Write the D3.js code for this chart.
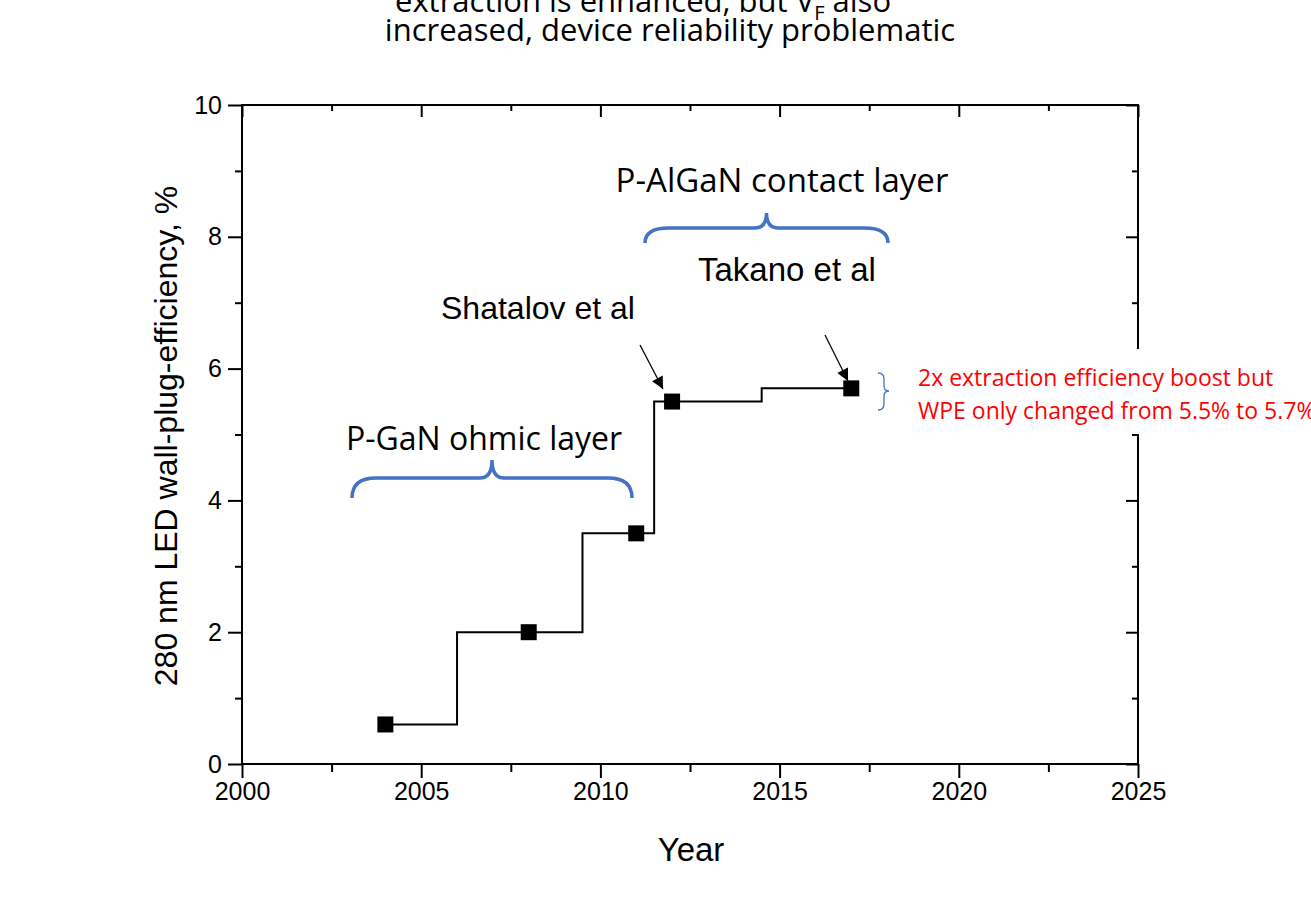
<!DOCTYPE html>
<html>
<head>
<meta charset="utf-8">
<script src="https://cdn.jsdelivr.net/npm/d3@7"></script>
<style>
  body { margin: 0; background: #fff; }
  svg { display: block; }
</style>
</head>
<body>
<svg id="chart"></svg>
<script>
const years = [2004, 2008, 2011, 2012, 2017];
const wpe = [0.6, 2.0, 3.5, 5.5, 5.7];
const xTicks = [2000, 2005, 2010, 2015, 2020, 2025];
const yTicks = [0, 2, 4, 6, 8, 10];

const W = 1311, H = 910;
const margin = { top: 105, right: 173, bottom: 146, left: 242 };
const width = W - margin.left - margin.right,
  height = H - margin.top - margin.bottom;

const svg = d3.select("#chart").attr("width", W).attr("height", H);
const g = svg.append("g")
  .attr("transform", "translate(" + margin.left + "," + margin.top + ")");

const x = d3.scaleLinear().domain([2000, 2025]).range([0, width]);
const y = d3.scaleLinear().domain([0, 10]).range([height, 0]);

const arial = "'Liberation Sans', Arial, sans-serif";
const calibri = "'Open Sans', 'Noto Sans', sans-serif";

// minor ticks
const xMinor = d3.range(2002.5, 2025, 5);
const yMinor = d3.range(1, 10, 2);

function styleAxis(sel) {
  sel.select(".domain").remove();
  sel.selectAll("line").attr("stroke", "#000").attr("stroke-width", 2);
  sel.selectAll("text").attr("font-family", arial).attr("font-size", 25).attr("fill", "#000");
}

// bottom
g.append("g").attr("transform", "translate(0," + height + ")")
  .call(d3.axisBottom(x).tickValues(xTicks).tickFormat(d3.format("d")).tickSize(14).tickPadding(4))
  .call(styleAxis);
g.append("g").attr("transform", "translate(0," + height + ")")
  .call(d3.axisBottom(x).tickValues(xMinor).tickFormat("").tickSize(8))
  .call(styleAxis);
// top (inward)
g.append("g")
  .call(d3.axisTop(x).tickValues(xTicks).tickFormat("").tickSize(-12))
  .call(styleAxis);
g.append("g")
  .call(d3.axisTop(x).tickValues(xMinor).tickFormat("").tickSize(-6))
  .call(styleAxis);
// left
g.append("g")
  .call(d3.axisLeft(y).tickValues(yTicks).tickSize(14).tickPadding(6))
  .call(styleAxis);
g.append("g")
  .call(d3.axisLeft(y).tickValues(yMinor).tickFormat("").tickSize(7))
  .call(styleAxis);
// right (inward)
g.append("g").attr("transform", "translate(" + width + ",0)")
  .call(d3.axisRight(y).tickValues(yTicks).tickFormat("").tickSize(-12))
  .call(styleAxis);
g.append("g").attr("transform", "translate(" + width + ",0)")
  .call(d3.axisRight(y).tickValues(yMinor).tickFormat("").tickSize(-6))
  .call(styleAxis);

// frame
g.append("rect").attr("width", width).attr("height", height)
  .attr("fill", "none").attr("stroke", "#000").attr("stroke-width", 2);

// step line
const data = years.map((d, i) => ({ year: d, v: wpe[i] }));
g.append("path").datum(data)
  .attr("fill", "none").attr("stroke", "#000").attr("stroke-width", 2)
  .attr("d", d3.line().x(d => x(d.year)).y(d => y(d.v)).curve(d3.curveStep));

g.selectAll(".pt").data(data).enter().append("rect")
  .attr("x", d => x(d.year) - 8).attr("y", d => y(d.v) - 8)
  .attr("width", 16).attr("height", 16).attr("fill", "#000");

// axis titles
svg.append("text").attr("x", 691).attr("y", 861).attr("text-anchor", "middle")
  .attr("font-family", arial).attr("font-size", 33).text("Year");
svg.append("text").attr("transform", "translate(177,436) rotate(-90)")
  .attr("text-anchor", "middle").attr("font-family", arial).attr("font-size", 32)
  .text("280 nm LED wall-plug-efficiency, %");

// title lines (top, clipped as in the slide)
const top1 = svg.append("text").attr("x", 643).attr("y", 12).attr("text-anchor", "middle")
  .attr("font-family", calibri).attr("font-size", 31);
top1.append("tspan").text("extraction is enhanced, but V");
top1.append("tspan").attr("font-size", 20).attr("dy", 8).text("F");
top1.append("tspan").attr("dy", -8).text(" also");
svg.append("text").attr("x", 670).attr("y", 41).attr("text-anchor", "middle")
  .attr("font-family", calibri).attr("font-size", 31)
  .text("increased, device reliability problematic");

// braces
function brace(x0, x1, yFlat, yEnd, yTip) {
  const xm = (x0 + x1) / 2, r = 12;
  return "M" + x0 + "," + yEnd +
    " Q" + x0 + "," + yFlat + " " + (x0 + r * 2) + "," + yFlat +
    " L" + (xm - r) + "," + yFlat +
    " Q" + xm + "," + yFlat + " " + xm + "," + yTip +
    " Q" + xm + "," + yFlat + " " + (xm + r) + "," + yFlat +
    " L" + (x1 - r * 2) + "," + yFlat +
    " Q" + x1 + "," + yFlat + " " + x1 + "," + yEnd;
}
svg.append("path").attr("d", brace(352, 632, 478, 498, 460))
  .attr("fill", "none").attr("stroke", "#4472c4").attr("stroke-width", 3.5);
svg.append("path").attr("d", brace(645, 888, 228, 243, 213))
  .attr("fill", "none").attr("stroke", "#4472c4").attr("stroke-width", 3.5);

svg.append("text").attr("x", 484).attr("y", 450).attr("text-anchor", "middle")
  .attr("font-family", calibri).attr("font-size", 32).text("P-GaN ohmic layer");
svg.append("text").attr("x", 782).attr("y", 192).attr("text-anchor", "middle")
  .attr("font-family", calibri).attr("font-size", 33).text("P-AlGaN contact layer");

// authors and arrows
svg.append("text").attr("x", 441).attr("y", 319)
  .attr("font-family", arial).attr("font-size", 32).text("Shatalov et al");
svg.append("text").attr("x", 698).attr("y", 281)
  .attr("font-family", arial).attr("font-size", 33).text("Takano et al");

svg.append("defs").append("marker").attr("id", "ah")
  .attr("viewBox", "0 0 10 10").attr("refX", 10).attr("refY", 5)
  .attr("markerWidth", 14).attr("markerHeight", 12).attr("orient", "auto")
  .attr("markerUnits", "userSpaceOnUse")
  .append("path").attr("d", "M0,0 L10,5 L0,10 z").attr("fill", "#000");

[[640, 345, 663, 389], [825, 335, 848, 381]].forEach(a => {
  svg.append("line").attr("x1", a[0]).attr("y1", a[1]).attr("x2", a[2]).attr("y2", a[3])
    .attr("stroke", "#000").attr("stroke-width", 1.3).attr("marker-end", "url(#ah)");
});

// red note box covering the right axis
svg.append("rect").attr("x", 898).attr("y", 349).attr("width", 413).attr("height", 85).attr("fill", "#fff");
svg.append("path").attr("d", "M878,373 Q884,373 884,379 L884,386 Q884,391 889,391 Q884,391 884,396 L884,404 Q884,410 878,410")
  .attr("fill", "none").attr("stroke", "#4472c4").attr("stroke-width", 1.3);
const note = svg.append("text").attr("font-family", calibri).attr("font-size", 23).attr("fill", "#ff0000");
note.append("tspan").attr("x", 918).attr("y", 386).text("2x extraction efficiency boost but");
note.append("tspan").attr("x", 918).attr("y", 419).text("WPE only changed from 5.5% to 5.7%");
</script>
</body>
</html>
